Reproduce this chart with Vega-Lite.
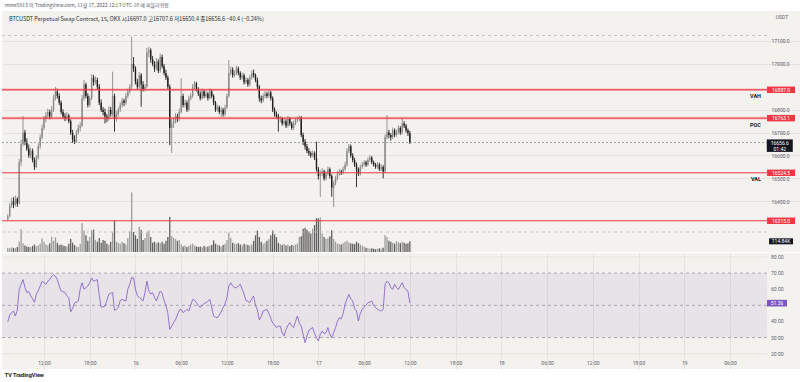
{
"$schema":"https://vega.github.io/schema/vega-lite/v6.json",
"background":"#ffffff",
"padding":{"top":3,"left":0,"right":0,"bottom":0},
"spacing":0,
"title":{"text":"TV TradingView","orient":"bottom","anchor":"start","fontSize":5.5,"fontWeight":"bold","font":"Roboto","color":"#131722","dx":4,"offset":4},
"data":{"format":{"parse":{"t":"utc:'%Y-%m-%d %H:%M'"}},"values":[
{"t":"2022-11-15 07:15","o":16320,"h":16345,"l":16315,"c":16335,"v":45,"r":39.9},
{"t":"2022-11-15 07:30","o":16335,"h":16392,"l":16330,"c":16380,"v":40,"r":44},
{"t":"2022-11-15 07:45","o":16380,"h":16415,"l":16372,"c":16400,"v":50,"r":45.5},
{"t":"2022-11-15 08:00","o":16400,"h":16418,"l":16370,"c":16385,"v":45,"r":46.5},
{"t":"2022-11-15 08:15","o":16385,"h":16425,"l":16378,"c":16410,"v":40,"r":43.4},
{"t":"2022-11-15 08:30","o":16410,"h":16418,"l":16375,"c":16390,"v":55,"r":47},
{"t":"2022-11-15 08:45","o":16390,"h":16585,"l":16385,"c":16570,"v":110,"r":60},
{"t":"2022-11-15 09:00","o":16570,"h":16668,"l":16555,"c":16650,"v":245,"r":63},
{"t":"2022-11-15 09:15","o":16650,"h":16772,"l":16640,"c":16700,"v":95,"r":66},
{"t":"2022-11-15 09:30","o":16700,"h":16712,"l":16645,"c":16660,"v":70,"r":61},
{"t":"2022-11-15 09:45","o":16660,"h":16675,"l":16620,"c":16630,"v":60,"r":58},
{"t":"2022-11-15 10:00","o":16630,"h":16648,"l":16590,"c":16600,"v":55,"r":58.5},
{"t":"2022-11-15 10:15","o":16600,"h":16635,"l":16588,"c":16620,"v":50,"r":56},
{"t":"2022-11-15 10:30","o":16620,"h":16630,"l":16570,"c":16580,"v":65,"r":54},
{"t":"2022-11-15 10:45","o":16580,"h":16592,"l":16537,"c":16550,"v":80,"r":52},
{"t":"2022-11-15 11:00","o":16550,"h":16602,"l":16545,"c":16590,"v":60,"r":57},
{"t":"2022-11-15 11:15","o":16590,"h":16652,"l":16582,"c":16640,"v":70,"r":59},
{"t":"2022-11-15 11:30","o":16640,"h":16692,"l":16630,"c":16680,"v":90,"r":62},
{"t":"2022-11-15 11:45","o":16680,"h":16735,"l":16670,"c":16720,"v":145,"r":65},
{"t":"2022-11-15 12:00","o":16720,"h":16772,"l":16710,"c":16760,"v":110,"r":64},
{"t":"2022-11-15 12:15","o":16760,"h":16790,"l":16745,"c":16775,"v":80,"r":63},
{"t":"2022-11-15 12:30","o":16775,"h":16805,"l":16762,"c":16790,"v":70,"r":65},
{"t":"2022-11-15 12:45","o":16790,"h":16800,"l":16758,"c":16770,"v":95,"r":66},
{"t":"2022-11-15 13:00","o":16770,"h":16815,"l":16762,"c":16800,"v":165,"r":68},
{"t":"2022-11-15 13:15","o":16800,"h":16865,"l":16790,"c":16850,"v":120,"r":69},
{"t":"2022-11-15 13:30","o":16850,"h":16900,"l":16840,"c":16880,"v":157,"r":68},
{"t":"2022-11-15 13:45","o":16880,"h":16892,"l":16848,"c":16860,"v":100,"r":66},
{"t":"2022-11-15 14:00","o":16860,"h":16872,"l":16820,"c":16830,"v":75,"r":62},
{"t":"2022-11-15 14:15","o":16830,"h":16840,"l":16780,"c":16790,"v":80,"r":59},
{"t":"2022-11-15 14:30","o":16790,"h":16802,"l":16760,"c":16770,"v":70,"r":58.5},
{"t":"2022-11-15 14:45","o":16770,"h":16785,"l":16750,"c":16760,"v":65,"r":58},
{"t":"2022-11-15 15:00","o":16760,"h":16790,"l":16752,"c":16775,"v":60,"r":56},
{"t":"2022-11-15 15:15","o":16775,"h":16782,"l":16740,"c":16750,"v":90,"r":54.8},
{"t":"2022-11-15 15:30","o":16750,"h":16758,"l":16690,"c":16700,"v":140,"r":46},
{"t":"2022-11-15 15:45","o":16700,"h":16712,"l":16655,"c":16670,"v":100,"r":48},
{"t":"2022-11-15 16:00","o":16670,"h":16688,"l":16650,"c":16660,"v":75,"r":51.5},
{"t":"2022-11-15 16:15","o":16660,"h":16712,"l":16655,"c":16700,"v":60,"r":52},
{"t":"2022-11-15 16:30","o":16700,"h":16735,"l":16692,"c":16720,"v":55,"r":52.7},
{"t":"2022-11-15 16:45","o":16720,"h":16745,"l":16705,"c":16730,"v":90,"r":60},
{"t":"2022-11-15 17:00","o":16730,"h":16865,"l":16725,"c":16850,"v":310,"r":64},
{"t":"2022-11-15 17:15","o":16850,"h":16930,"l":16840,"c":16910,"v":230,"r":60},
{"t":"2022-11-15 17:30","o":16910,"h":16918,"l":16850,"c":16860,"v":180,"r":61},
{"t":"2022-11-15 17:45","o":16860,"h":16872,"l":16810,"c":16820,"v":120,"r":62},
{"t":"2022-11-15 18:00","o":16820,"h":16862,"l":16812,"c":16850,"v":160,"r":64},
{"t":"2022-11-15 18:15","o":16850,"h":16955,"l":16842,"c":16940,"v":235,"r":67},
{"t":"2022-11-15 18:30","o":16940,"h":16952,"l":16905,"c":16920,"v":240,"r":65},
{"t":"2022-11-15 18:45","o":16920,"h":16945,"l":16910,"c":16930,"v":130,"r":65.5},
{"t":"2022-11-15 19:00","o":16930,"h":16940,"l":16890,"c":16900,"v":110,"r":66},
{"t":"2022-11-15 19:15","o":16900,"h":16912,"l":16820,"c":16830,"v":150,"r":56},
{"t":"2022-11-15 19:30","o":16830,"h":16845,"l":16790,"c":16800,"v":100,"r":49},
{"t":"2022-11-15 19:45","o":16800,"h":16812,"l":16775,"c":16790,"v":130,"r":49},
{"t":"2022-11-15 20:00","o":16790,"h":16805,"l":16740,"c":16770,"v":120,"r":49.6},
{"t":"2022-11-15 20:15","o":16770,"h":16782,"l":16745,"c":16760,"v":90,"r":53},
{"t":"2022-11-15 20:30","o":16760,"h":16815,"l":16752,"c":16800,"v":80,"r":56.8},
{"t":"2022-11-15 20:45","o":16800,"h":16812,"l":16770,"c":16780,"v":110,"r":57.5},
{"t":"2022-11-15 21:00","o":16780,"h":16966,"l":16770,"c":16860,"v":210,"r":58},
{"t":"2022-11-15 21:15","o":16860,"h":16870,"l":16704,"c":16760,"v":340,"r":47},
{"t":"2022-11-15 21:30","o":16760,"h":16795,"l":16748,"c":16780,"v":110,"r":47.5},
{"t":"2022-11-15 21:45","o":16780,"h":16810,"l":16770,"c":16800,"v":100,"r":48.6},
{"t":"2022-11-15 22:00","o":16800,"h":16832,"l":16790,"c":16820,"v":90,"r":53},
{"t":"2022-11-15 22:15","o":16820,"h":16852,"l":16810,"c":16840,"v":110,"r":53.7},
{"t":"2022-11-15 22:30","o":16840,"h":16848,"l":16815,"c":16830,"v":95,"r":53},
{"t":"2022-11-15 22:45","o":16830,"h":16872,"l":16822,"c":16860,"v":80,"r":52.7},
{"t":"2022-11-15 23:00","o":16860,"h":16892,"l":16850,"c":16880,"v":150,"r":60},
{"t":"2022-11-15 23:15","o":16880,"h":16912,"l":16870,"c":16900,"v":220,"r":63},
{"t":"2022-11-15 23:30","o":16900,"h":17119,"l":16890,"c":17000,"v":640,"r":67.2},
{"t":"2022-11-15 23:45","o":17000,"h":17030,"l":16965,"c":16980,"v":215,"r":67},
{"t":"2022-11-16 00:00","o":16980,"h":16990,"l":16910,"c":16920,"v":180,"r":60},
{"t":"2022-11-16 00:15","o":16920,"h":16935,"l":16888,"c":16900,"v":140,"r":56},
{"t":"2022-11-16 00:30","o":16900,"h":16965,"l":16892,"c":16950,"v":270,"r":55},
{"t":"2022-11-16 00:45","o":16950,"h":16960,"l":16813,"c":16910,"v":240,"r":54},
{"t":"2022-11-16 01:00","o":16910,"h":16925,"l":16880,"c":16890,"v":130,"r":52.7},
{"t":"2022-11-16 01:15","o":16890,"h":16912,"l":16880,"c":16900,"v":150,"r":58},
{"t":"2022-11-16 01:30","o":16900,"h":17070,"l":16895,"c":17050,"v":210,"r":65},
{"t":"2022-11-16 01:45","o":17050,"h":17075,"l":17030,"c":17060,"v":230,"r":59},
{"t":"2022-11-16 02:00","o":17060,"h":17068,"l":17005,"c":17020,"v":160,"r":57},
{"t":"2022-11-16 02:15","o":17020,"h":17035,"l":16990,"c":17000,"v":100,"r":57.9},
{"t":"2022-11-16 02:30","o":17000,"h":17012,"l":16965,"c":16980,"v":110,"r":55},
{"t":"2022-11-16 02:45","o":16980,"h":17025,"l":16972,"c":17010,"v":90,"r":52.7},
{"t":"2022-11-16 03:00","o":17010,"h":17020,"l":16960,"c":16970,"v":105,"r":56},
{"t":"2022-11-16 03:15","o":16970,"h":17045,"l":16962,"c":17030,"v":95,"r":58.9},
{"t":"2022-11-16 03:30","o":17030,"h":17040,"l":16980,"c":16990,"v":110,"r":57.5},
{"t":"2022-11-16 03:45","o":16990,"h":17000,"l":16950,"c":16960,"v":90,"r":53},
{"t":"2022-11-16 04:00","o":16960,"h":16975,"l":16930,"c":16940,"v":120,"r":50},
{"t":"2022-11-16 04:15","o":16940,"h":16950,"l":16890,"c":16900,"v":160,"r":45},
{"t":"2022-11-16 04:30","o":16900,"h":16910,"l":16645,"c":16720,"v":375,"r":35.1},
{"t":"2022-11-16 04:45","o":16720,"h":16760,"l":16611,"c":16740,"v":170,"r":37},
{"t":"2022-11-16 05:00","o":16740,"h":16765,"l":16720,"c":16750,"v":150,"r":39.3},
{"t":"2022-11-16 05:15","o":16750,"h":16785,"l":16740,"c":16770,"v":140,"r":41},
{"t":"2022-11-16 05:30","o":16770,"h":16782,"l":16745,"c":16760,"v":120,"r":44},
{"t":"2022-11-16 05:45","o":16760,"h":16805,"l":16750,"c":16790,"v":130,"r":47},
{"t":"2022-11-16 06:00","o":16790,"h":16938,"l":16782,"c":16860,"v":80,"r":47.5},
{"t":"2022-11-16 06:15","o":16860,"h":16870,"l":16810,"c":16820,"v":60,"r":45.5},
{"t":"2022-11-16 06:30","o":16820,"h":16845,"l":16810,"c":16830,"v":70,"r":46.5},
{"t":"2022-11-16 06:45","o":16830,"h":16840,"l":16790,"c":16800,"v":55,"r":47.5},
{"t":"2022-11-16 07:00","o":16800,"h":16862,"l":16792,"c":16850,"v":65,"r":46.5},
{"t":"2022-11-16 07:15","o":16850,"h":16872,"l":16840,"c":16860,"v":80,"r":50},
{"t":"2022-11-16 07:30","o":16860,"h":16912,"l":16852,"c":16900,"v":90,"r":53.7},
{"t":"2022-11-16 07:45","o":16900,"h":16925,"l":16890,"c":16915,"v":70,"r":53},
{"t":"2022-11-16 08:00","o":16915,"h":16922,"l":16880,"c":16890,"v":60,"r":51.7},
{"t":"2022-11-16 08:15","o":16890,"h":16898,"l":16860,"c":16870,"v":55,"r":50},
{"t":"2022-11-16 08:30","o":16870,"h":16880,"l":16840,"c":16850,"v":60,"r":48.6},
{"t":"2022-11-16 08:45","o":16850,"h":16892,"l":16845,"c":16880,"v":50,"r":50},
{"t":"2022-11-16 09:00","o":16880,"h":16888,"l":16850,"c":16860,"v":65,"r":51},
{"t":"2022-11-16 09:15","o":16860,"h":16882,"l":16852,"c":16870,"v":55,"r":51.7},
{"t":"2022-11-16 09:30","o":16870,"h":16878,"l":16840,"c":16850,"v":60,"r":52.5},
{"t":"2022-11-16 09:45","o":16850,"h":16892,"l":16845,"c":16880,"v":70,"r":53.7},
{"t":"2022-11-16 10:00","o":16880,"h":16888,"l":16850,"c":16860,"v":75,"r":49},
{"t":"2022-11-16 10:15","o":16860,"h":16868,"l":16820,"c":16830,"v":125,"r":43.4},
{"t":"2022-11-16 10:30","o":16830,"h":16838,"l":16790,"c":16800,"v":90,"r":42.6},
{"t":"2022-11-16 10:45","o":16800,"h":16822,"l":16792,"c":16810,"v":80,"r":42.4},
{"t":"2022-11-16 11:00","o":16810,"h":16818,"l":16780,"c":16790,"v":70,"r":44},
{"t":"2022-11-16 11:15","o":16790,"h":16812,"l":16768,"c":16800,"v":60,"r":46},
{"t":"2022-11-16 11:30","o":16800,"h":16808,"l":16770,"c":16780,"v":75,"r":48.6},
{"t":"2022-11-16 11:45","o":16780,"h":16822,"l":16772,"c":16810,"v":90,"r":51},
{"t":"2022-11-16 12:00","o":16810,"h":16872,"l":16802,"c":16860,"v":130,"r":54.8},
{"t":"2022-11-16 12:15","o":16860,"h":17017,"l":16852,"c":16960,"v":210,"r":62},
{"t":"2022-11-16 12:30","o":16960,"h":16990,"l":16950,"c":16975,"v":150,"r":64},
{"t":"2022-11-16 12:45","o":16975,"h":16985,"l":16940,"c":16950,"v":100,"r":62},
{"t":"2022-11-16 13:00","o":16950,"h":16972,"l":16942,"c":16960,"v":90,"r":61},
{"t":"2022-11-16 13:15","o":16960,"h":16992,"l":16952,"c":16980,"v":85,"r":61},
{"t":"2022-11-16 13:30","o":16980,"h":16988,"l":16950,"c":16960,"v":95,"r":62},
{"t":"2022-11-16 13:45","o":16960,"h":16968,"l":16930,"c":16940,"v":80,"r":63},
{"t":"2022-11-16 14:00","o":16940,"h":16962,"l":16932,"c":16950,"v":70,"r":60},
{"t":"2022-11-16 14:15","o":16950,"h":16958,"l":16910,"c":16920,"v":90,"r":57},
{"t":"2022-11-16 14:30","o":16920,"h":16942,"l":16912,"c":16930,"v":80,"r":53},
{"t":"2022-11-16 14:45","o":16930,"h":16938,"l":16900,"c":16910,"v":75,"r":52.5},
{"t":"2022-11-16 15:00","o":16910,"h":16952,"l":16902,"c":16940,"v":70,"r":51.7},
{"t":"2022-11-16 15:15","o":16940,"h":16972,"l":16932,"c":16960,"v":80,"r":54},
{"t":"2022-11-16 15:30","o":16960,"h":16975,"l":16940,"c":16950,"v":120,"r":55.8},
{"t":"2022-11-16 15:45","o":16950,"h":16958,"l":16920,"c":16930,"v":180,"r":50},
{"t":"2022-11-16 16:00","o":16930,"h":16940,"l":16890,"c":16900,"v":230,"r":47},
{"t":"2022-11-16 16:15","o":16900,"h":16908,"l":16835,"c":16850,"v":160,"r":41},
{"t":"2022-11-16 16:30","o":16850,"h":16862,"l":16828,"c":16840,"v":110,"r":43},
{"t":"2022-11-16 16:45","o":16840,"h":16872,"l":16832,"c":16860,"v":90,"r":46.5},
{"t":"2022-11-16 17:00","o":16860,"h":16882,"l":16850,"c":16870,"v":100,"r":47},
{"t":"2022-11-16 17:15","o":16870,"h":16878,"l":16850,"c":16860,"v":120,"r":47.5},
{"t":"2022-11-16 17:30","o":16860,"h":16888,"l":16852,"c":16875,"v":140,"r":45},
{"t":"2022-11-16 17:45","o":16875,"h":16882,"l":16840,"c":16850,"v":180,"r":42},
{"t":"2022-11-16 18:00","o":16850,"h":16858,"l":16790,"c":16800,"v":230,"r":39},
{"t":"2022-11-16 18:15","o":16800,"h":16810,"l":16770,"c":16780,"v":190,"r":38},
{"t":"2022-11-16 18:30","o":16780,"h":16792,"l":16760,"c":16770,"v":160,"r":36.2},
{"t":"2022-11-16 18:45","o":16770,"h":16782,"l":16704,"c":16760,"v":100,"r":37},
{"t":"2022-11-16 19:00","o":16760,"h":16772,"l":16745,"c":16760,"v":85,"r":37.2},
{"t":"2022-11-16 19:15","o":16760,"h":16768,"l":16730,"c":16740,"v":75,"r":33},
{"t":"2022-11-16 19:30","o":16740,"h":16762,"l":16732,"c":16750,"v":90,"r":31},
{"t":"2022-11-16 19:45","o":16750,"h":16758,"l":16720,"c":16730,"v":70,"r":35},
{"t":"2022-11-16 20:00","o":16730,"h":16772,"l":16722,"c":16760,"v":80,"r":37.5},
{"t":"2022-11-16 20:15","o":16760,"h":16768,"l":16730,"c":16740,"v":65,"r":39.3},
{"t":"2022-11-16 20:30","o":16740,"h":16748,"l":16712,"c":16720,"v":75,"r":37.5},
{"t":"2022-11-16 20:45","o":16720,"h":16752,"l":16712,"c":16740,"v":70,"r":36.2},
{"t":"2022-11-16 21:00","o":16740,"h":16765,"l":16732,"c":16755,"v":80,"r":40},
{"t":"2022-11-16 21:15","o":16755,"h":16770,"l":16745,"c":16760,"v":90,"r":43.4},
{"t":"2022-11-16 21:30","o":16760,"h":16775,"l":16750,"c":16765,"v":160,"r":39},
{"t":"2022-11-16 21:45","o":16765,"h":16772,"l":16680,"c":16690,"v":170,"r":37},
{"t":"2022-11-16 22:00","o":16690,"h":16700,"l":16645,"c":16660,"v":250,"r":32},
{"t":"2022-11-16 22:15","o":16660,"h":16672,"l":16625,"c":16640,"v":260,"r":26.8},
{"t":"2022-11-16 22:30","o":16640,"h":16650,"l":16610,"c":16620,"v":240,"r":31},
{"t":"2022-11-16 22:45","o":16620,"h":16632,"l":16598,"c":16610,"v":220,"r":34.5},
{"t":"2022-11-16 23:00","o":16610,"h":16618,"l":16590,"c":16600,"v":200,"r":35.5},
{"t":"2022-11-16 23:15","o":16600,"h":16622,"l":16592,"c":16610,"v":250,"r":36.2},
{"t":"2022-11-16 23:30","o":16610,"h":16618,"l":16580,"c":16590,"v":290,"r":32.5},
{"t":"2022-11-16 23:45","o":16590,"h":16660,"l":16530,"c":16540,"v":365,"r":30},
{"t":"2022-11-17 00:00","o":16540,"h":16550,"l":16495,"c":16510,"v":360,"r":27.9},
{"t":"2022-11-17 00:15","o":16510,"h":16535,"l":16419,"c":16520,"v":370,"r":32},
{"t":"2022-11-17 00:30","o":16520,"h":16545,"l":16510,"c":16530,"v":200,"r":34.1},
{"t":"2022-11-17 00:45","o":16530,"h":16538,"l":16490,"c":16500,"v":160,"r":32.5},
{"t":"2022-11-17 01:00","o":16500,"h":16532,"l":16492,"c":16520,"v":140,"r":33},
{"t":"2022-11-17 01:15","o":16520,"h":16552,"l":16512,"c":16540,"v":150,"r":36.2},
{"t":"2022-11-17 01:30","o":16540,"h":16548,"l":16500,"c":16510,"v":170,"r":32},
{"t":"2022-11-17 01:45","o":16510,"h":16518,"l":16420,"c":16460,"v":235,"r":29.9},
{"t":"2022-11-17 02:00","o":16460,"h":16490,"l":16375,"c":16480,"v":140,"r":33},
{"t":"2022-11-17 02:15","o":16480,"h":16512,"l":16470,"c":16500,"v":110,"r":36.2},
{"t":"2022-11-17 02:30","o":16500,"h":16532,"l":16492,"c":16520,"v":90,"r":40},
{"t":"2022-11-17 02:45","o":16520,"h":16542,"l":16512,"c":16530,"v":85,"r":42.4},
{"t":"2022-11-17 03:00","o":16530,"h":16538,"l":16515,"c":16525,"v":80,"r":41.5},
{"t":"2022-11-17 03:15","o":16525,"h":16552,"l":16518,"c":16540,"v":95,"r":45},
{"t":"2022-11-17 03:30","o":16540,"h":16572,"l":16532,"c":16560,"v":110,"r":50.6},
{"t":"2022-11-17 03:45","o":16560,"h":16632,"l":16552,"c":16620,"v":120,"r":54},
{"t":"2022-11-17 04:00","o":16620,"h":16650,"l":16610,"c":16640,"v":100,"r":56.8},
{"t":"2022-11-17 04:15","o":16640,"h":16648,"l":16590,"c":16600,"v":95,"r":54},
{"t":"2022-11-17 04:30","o":16600,"h":16610,"l":16570,"c":16580,"v":90,"r":52.7},
{"t":"2022-11-17 04:45","o":16580,"h":16590,"l":16550,"c":16560,"v":85,"r":48},
{"t":"2022-11-17 05:00","o":16560,"h":16570,"l":16462,"c":16540,"v":110,"r":46.5},
{"t":"2022-11-17 05:15","o":16540,"h":16548,"l":16510,"c":16520,"v":95,"r":40.3},
{"t":"2022-11-17 05:30","o":16520,"h":16560,"l":16512,"c":16550,"v":80,"r":45},
{"t":"2022-11-17 05:45","o":16550,"h":16572,"l":16542,"c":16560,"v":70,"r":47.5},
{"t":"2022-11-17 06:00","o":16560,"h":16580,"l":16552,"c":16570,"v":60,"r":49},
{"t":"2022-11-17 06:15","o":16570,"h":16578,"l":16550,"c":16560,"v":45,"r":50},
{"t":"2022-11-17 06:30","o":16560,"h":16592,"l":16552,"c":16580,"v":40,"r":51.7},
{"t":"2022-11-17 06:45","o":16580,"h":16602,"l":16572,"c":16590,"v":35,"r":52},
{"t":"2022-11-17 07:00","o":16590,"h":16598,"l":16562,"c":16570,"v":40,"r":52.7},
{"t":"2022-11-17 07:15","o":16570,"h":16578,"l":16552,"c":16560,"v":35,"r":50},
{"t":"2022-11-17 07:30","o":16560,"h":16568,"l":16542,"c":16550,"v":30,"r":48.6},
{"t":"2022-11-17 07:45","o":16550,"h":16572,"l":16542,"c":16560,"v":35,"r":47.5},
{"t":"2022-11-17 08:00","o":16560,"h":16568,"l":16532,"c":16540,"v":40,"r":47},
{"t":"2022-11-17 08:15","o":16540,"h":16562,"l":16532,"c":16550,"v":35,"r":46.5},
{"t":"2022-11-17 08:30","o":16550,"h":16558,"l":16500,"c":16530,"v":45,"r":47.5},
{"t":"2022-11-17 08:45","o":16530,"h":16692,"l":16522,"c":16680,"v":180,"r":63},
{"t":"2022-11-17 09:00","o":16680,"h":16777,"l":16670,"c":16700,"v":160,"r":65},
{"t":"2022-11-17 09:15","o":16700,"h":16712,"l":16675,"c":16690,"v":120,"r":64},
{"t":"2022-11-17 09:30","o":16690,"h":16698,"l":16665,"c":16680,"v":110,"r":61},
{"t":"2022-11-17 09:45","o":16680,"h":16722,"l":16672,"c":16710,"v":100,"r":60},
{"t":"2022-11-17 10:00","o":16710,"h":16718,"l":16680,"c":16690,"v":90,"r":63},
{"t":"2022-11-17 10:15","o":16690,"h":16712,"l":16682,"c":16700,"v":115,"r":61},
{"t":"2022-11-17 10:30","o":16700,"h":16732,"l":16692,"c":16720,"v":105,"r":59.9},
{"t":"2022-11-17 10:45","o":16720,"h":16728,"l":16690,"c":16700,"v":95,"r":62},
{"t":"2022-11-17 11:00","o":16700,"h":16764,"l":16692,"c":16740,"v":110,"r":64.1},
{"t":"2022-11-17 11:15","o":16740,"h":16750,"l":16720,"c":16730,"v":100,"r":61},
{"t":"2022-11-17 11:30","o":16730,"h":16738,"l":16700,"c":16710,"v":90,"r":59.9},
{"t":"2022-11-17 11:45","o":16710,"h":16718,"l":16685,"c":16697,"v":95,"r":58.9},
{"t":"2022-11-17 12:00","o":16697,"h":16707.6,"l":16650.4,"c":16656.6,"v":114.84,"r":51.36}
]},
"vconcat":[
{
"width":800,"height":241,
"title":{"text":"mme5913 이 TradingView.com, 11월 17, 2022 12:13 UTC-10 에 퍼블리쉬함","anchor":"start","fontSize":5,"font":"Noto Sans CJK KR","fontWeight":"normal","color":"#50535e","dx":4,"offset":3},
"layer":[
{"layer":[
 {"mark":{"type":"rule","strokeWidth":1.3},
  "encoding":{
   "x":{"field":"t","type":"temporal","scale":{"type":"utc","domain":[{"year":2022,"month":11,"date":15,"hours":6,"minutes":29,"seconds":24,"utc":true},{"year":2022,"month":11,"date":19,"hours":15,"minutes":27,"utc":true}]},"axis":null},
   "y":{"field":"v","type":"quantitative","scale":{"domain":[0,2590]},"axis":null},
   "y2":{"datum":0},
   "color":{"condition":{"test":"datum.c >= datum.o","value":"#9c9c9c"},"value":"#606060"}}},
 {"data":{"values":[{"v":114.84,"s":"114.84K"}]},
  "mark":{"type":"point","shape":"M-1,-0.25H1V0.25H-1Z","filled":true,"size":576,"opacity":1,"color":"#131722"},
  "encoding":{
   "x":{"datum":{"year":2022,"month":11,"date":19,"hours":12,"minutes":42,"utc":true},"type":"temporal","scale":{"type":"utc","domain":[{"year":2022,"month":11,"date":15,"hours":6,"minutes":29,"seconds":24,"utc":true},{"year":2022,"month":11,"date":19,"hours":15,"minutes":27,"utc":true}]}},
   "y":{"field":"v","type":"quantitative","scale":{"domain":[0,2590]},"axis":null}}},
 {"data":{"values":[{"v":114.84,"s":"114.84K"}]},
  "mark":{"type":"text","color":"#ffffff","fontSize":5,"font":"Roboto","align":"center","baseline":"middle"},
  "encoding":{
   "x":{"datum":{"year":2022,"month":11,"date":19,"hours":12,"minutes":42,"utc":true},"type":"temporal","scale":{"type":"utc","domain":[{"year":2022,"month":11,"date":15,"hours":6,"minutes":29,"seconds":24,"utc":true},{"year":2022,"month":11,"date":19,"hours":15,"minutes":27,"utc":true}]}},
   "y":{"field":"v","type":"quantitative","scale":{"domain":[0,2590]},"axis":null},
   "text":{"field":"s"}}}
]},
{"layer":[
 {"mark":{"type":"rule","strokeWidth":0.9},
  "encoding":{
   "x":{"field":"t","type":"temporal","scale":{"type":"utc","domain":[{"year":2022,"month":11,"date":15,"hours":6,"minutes":29,"seconds":24,"utc":true},{"year":2022,"month":11,"date":19,"hours":15,"minutes":27,"utc":true}]},
    "axis":{"grid":true,"gridColor":"#e6e3de","gridWidth":1,"labels":false,"ticks":false,"domain":false,"title":null,
     "values":[{"year":2022,"month":11,"date":15,"hours":12,"utc":true},{"year":2022,"month":11,"date":15,"hours":18,"utc":true},{"year":2022,"month":11,"date":16,"hours":0,"utc":true},{"year":2022,"month":11,"date":16,"hours":6,"utc":true},{"year":2022,"month":11,"date":16,"hours":12,"utc":true},{"year":2022,"month":11,"date":16,"hours":18,"utc":true},{"year":2022,"month":11,"date":17,"hours":0,"utc":true},{"year":2022,"month":11,"date":17,"hours":6,"utc":true},{"year":2022,"month":11,"date":17,"hours":12,"utc":true},{"year":2022,"month":11,"date":17,"hours":18,"utc":true},{"year":2022,"month":11,"date":18,"hours":0,"utc":true},{"year":2022,"month":11,"date":18,"hours":6,"utc":true},{"year":2022,"month":11,"date":18,"hours":12,"utc":true},{"year":2022,"month":11,"date":18,"hours":18,"utc":true},{"year":2022,"month":11,"date":19,"hours":0,"utc":true},{"year":2022,"month":11,"date":19,"hours":6,"utc":true}]}},
   "y":{"field":"l","type":"quantitative","scale":{"domain":[16178.6,17231]},
    "axis":{"orient":"right","offset":-36,"values":[16400,16500,16600,16700,16800,17000,17100],"format":".1f","grid":true,"gridColor":"#e6e3de","domain":false,"ticks":false,"labelOverlap":false,"labelFontSize":5,"labelFont":"Roboto","labelColor":"#5d606b","labelPadding":5,"title":null}},
   "y2":{"field":"h"},
   "color":{"condition":{"test":"datum.c >= datum.o","value":"#8a8a8a"},"value":"#1e1e1e"}}},
 {"mark":{"type":"rule","strokeWidth":1.4},
  "encoding":{
   "x":{"field":"t","type":"temporal","scale":{"type":"utc","domain":[{"year":2022,"month":11,"date":15,"hours":6,"minutes":29,"seconds":24,"utc":true},{"year":2022,"month":11,"date":19,"hours":15,"minutes":27,"utc":true}]}},
   "y":{"field":"o","type":"quantitative","scale":{"domain":[16178.6,17231]}},
   "y2":{"field":"c"},
   "color":{"condition":{"test":"datum.c >= datum.o","value":"#8a8a8a"},"value":"#1e1e1e"}}},
 {"data":{"values":[{"p":17124},{"p":16266}]},
  "mark":{"type":"rule","color":"#bdbab4","strokeWidth":0.8,"strokeDash":[3,3]},
  "encoding":{
   "x":{"datum":{"year":2022,"month":11,"date":15,"hours":6,"minutes":29,"seconds":24,"utc":true},"type":"temporal","scale":{"type":"utc","domain":[{"year":2022,"month":11,"date":15,"hours":6,"minutes":29,"seconds":24,"utc":true},{"year":2022,"month":11,"date":19,"hours":15,"minutes":27,"utc":true}]}},
   "x2":{"datum":{"year":2022,"month":11,"date":19,"hours":10,"minutes":51,"utc":true}},
   "y":{"field":"p","type":"quantitative","scale":{"domain":[16178.6,17231]}}}},
 {"data":{"values":[{"p":16656.6}]},
  "mark":{"type":"rule","color":"#8d8f96","strokeWidth":0.8,"strokeDash":[2,2]},
  "encoding":{
   "x":{"datum":{"year":2022,"month":11,"date":15,"hours":6,"minutes":29,"seconds":24,"utc":true},"type":"temporal","scale":{"type":"utc","domain":[{"year":2022,"month":11,"date":15,"hours":6,"minutes":29,"seconds":24,"utc":true},{"year":2022,"month":11,"date":19,"hours":15,"minutes":27,"utc":true}]}},
   "x2":{"datum":{"year":2022,"month":11,"date":19,"hours":10,"minutes":51,"utc":true}},
   "y":{"field":"p","type":"quantitative","scale":{"domain":[16178.6,17231]}}}},
 {"data":{"values":[{"p":16887},{"p":16763.1}]},
  "mark":{"type":"rule","color":"#f23645","strokeWidth":2.6,"opacity":0.3},
  "encoding":{
   "x":{"datum":{"year":2022,"month":11,"date":15,"hours":6,"minutes":29,"seconds":24,"utc":true},"type":"temporal","scale":{"type":"utc","domain":[{"year":2022,"month":11,"date":15,"hours":6,"minutes":29,"seconds":24,"utc":true},{"year":2022,"month":11,"date":19,"hours":15,"minutes":27,"utc":true}]}},
   "x2":{"datum":{"year":2022,"month":11,"date":19,"hours":10,"minutes":51,"utc":true}},
   "y":{"field":"p","type":"quantitative","scale":{"domain":[16178.6,17231]}}}},
 {"data":{"values":[{"p":16887},{"p":16763.1},{"p":16524.5},{"p":16315}]},
  "mark":{"type":"rule","color":"#f23645","strokeWidth":1},
  "encoding":{
   "x":{"datum":{"year":2022,"month":11,"date":15,"hours":6,"minutes":29,"seconds":24,"utc":true},"type":"temporal","scale":{"type":"utc","domain":[{"year":2022,"month":11,"date":15,"hours":6,"minutes":29,"seconds":24,"utc":true},{"year":2022,"month":11,"date":19,"hours":15,"minutes":27,"utc":true}]}},
   "x2":{"datum":{"year":2022,"month":11,"date":19,"hours":10,"minutes":51,"utc":true}},
   "y":{"field":"p","type":"quantitative","scale":{"domain":[16178.6,17231]}}}},
 {"data":{"values":[{"p":16887,"n":"VAH"},{"p":16763.1,"n":"POC"},{"p":16524.5,"n":"VAL"}]},
  "mark":{"type":"text","align":"right","baseline":"middle","dy":6.5,"fontSize":5.5,"fontWeight":"bold","font":"Roboto","color":"#131722"},
  "encoding":{
   "x":{"datum":{"year":2022,"month":11,"date":19,"hours":10,"minutes":4,"utc":true},"type":"temporal","scale":{"type":"utc","domain":[{"year":2022,"month":11,"date":15,"hours":6,"minutes":29,"seconds":24,"utc":true},{"year":2022,"month":11,"date":19,"hours":15,"minutes":27,"utc":true}]}},
   "y":{"field":"p","type":"quantitative","scale":{"domain":[16178.6,17231]}},
   "text":{"field":"n"}}},
 {"data":{"values":[{"p":16887,"s":"16887.0"},{"p":16763.1,"s":"16763.1"},{"p":16524.5,"s":"16524.5"},{"p":16315,"s":"16315.0"}]},
  "layer":[
   {"mark":{"type":"point","shape":"M-1,-0.23H1V0.23H-1Z","filled":true,"size":784,"opacity":1,"color":"#f23645"}},
   {"mark":{"type":"text","color":"#ffffff","fontSize":5,"font":"Roboto","align":"center","baseline":"middle"},"encoding":{"text":{"field":"s"}}}
  ],
  "encoding":{
   "x":{"datum":{"year":2022,"month":11,"date":19,"hours":12,"minutes":42,"utc":true},"type":"temporal","scale":{"type":"utc","domain":[{"year":2022,"month":11,"date":15,"hours":6,"minutes":29,"seconds":24,"utc":true},{"year":2022,"month":11,"date":19,"hours":15,"minutes":27,"utc":true}]}},
   "y":{"field":"p","type":"quantitative","scale":{"domain":[16178.6,17231]}}}},
 {"data":{"values":[{"p":16656.6,"s":"16656.6","u":"01:42"}]},
  "layer":[
   {"mark":{"type":"point","shape":"M-1,-0.24H1V0.72H-1Z","filled":true,"size":676,"opacity":1,"color":"#131722"}},
   {"mark":{"type":"text","color":"#ffffff","fontSize":5,"font":"Roboto","align":"center","baseline":"middle","dy":0.3},"encoding":{"text":{"field":"s"}}},
   {"mark":{"type":"text","color":"#ffffff","fontSize":5,"font":"Roboto","align":"center","baseline":"middle","dy":6},"encoding":{"text":{"field":"u"}}}
  ],
  "encoding":{
   "x":{"datum":{"year":2022,"month":11,"date":19,"hours":12,"minutes":32,"utc":true},"type":"temporal","scale":{"type":"utc","domain":[{"year":2022,"month":11,"date":15,"hours":6,"minutes":29,"seconds":24,"utc":true},{"year":2022,"month":11,"date":19,"hours":15,"minutes":27,"utc":true}]}},
   "y":{"field":"p","type":"quantitative","scale":{"domain":[16178.6,17231]}}}},
 {"data":{"values":[{"p":17196,"s":"BTCUSDT Perpetual Swap Contract, 15, OKX  시16697.0  고16707.6  저16650.4  종16656.6  −40.4 (−0.24%)"}]},
  "mark":{"type":"text","align":"left","baseline":"middle","fontSize":5.5,"font":"Noto Sans CJK KR","color":"#2a2e39"},
  "encoding":{
   "x":{"datum":{"year":2022,"month":11,"date":15,"hours":7,"minutes":24,"utc":true},"type":"temporal","scale":{"type":"utc","domain":[{"year":2022,"month":11,"date":15,"hours":6,"minutes":29,"seconds":24,"utc":true},{"year":2022,"month":11,"date":19,"hours":15,"minutes":27,"utc":true}]}},
   "y":{"field":"p","type":"quantitative","scale":{"domain":[16178.6,17231]}},
   "text":{"field":"s"}}},
 {"data":{"values":[{"p":17205,"s":"USDT"}]},
  "mark":{"type":"text","align":"left","baseline":"middle","fontSize":5,"font":"Roboto","color":"#5d606b"},
  "encoding":{
   "x":{"datum":{"year":2022,"month":11,"date":19,"hours":12,"minutes":0,"utc":true},"type":"temporal","scale":{"type":"utc","domain":[{"year":2022,"month":11,"date":15,"hours":6,"minutes":29,"seconds":24,"utc":true},{"year":2022,"month":11,"date":19,"hours":15,"minutes":27,"utc":true}]}},
   "y":{"field":"p","type":"quantitative","scale":{"domain":[16178.6,17231]}},
   "text":{"field":"s"}}}
]}
],
"resolve":{"scale":{"y":"independent"}}
},
{
"width":800,"height":116,
"layer":[
 {"data":{"values":[{"a":70,"b":30}]},
  "mark":{"type":"rect","color":"#7e57c2","opacity":0.1},
  "encoding":{
   "x":{"datum":{"year":2022,"month":11,"date":15,"hours":6,"minutes":29,"seconds":24,"utc":true},"type":"temporal","scale":{"type":"utc","domain":[{"year":2022,"month":11,"date":15,"hours":6,"minutes":29,"seconds":24,"utc":true},{"year":2022,"month":11,"date":19,"hours":15,"minutes":27,"utc":true}]},
    "axis":{"grid":true,"gridColor":"#e6e3de","ticks":false,"domain":false,"title":null,"offset":-10,"labelPadding":1,"labelFontSize":5,"labelFont":"Roboto","labelColor":"#5d606b","labelBaseline":"top",
     "labelExpr":"utchours(datum.value) == 0 ? utcFormat(datum.value, '%-d') : utcFormat(datum.value, '%H:%M')",
     "values":[{"year":2022,"month":11,"date":15,"hours":12,"utc":true},{"year":2022,"month":11,"date":15,"hours":18,"utc":true},{"year":2022,"month":11,"date":16,"hours":0,"utc":true},{"year":2022,"month":11,"date":16,"hours":6,"utc":true},{"year":2022,"month":11,"date":16,"hours":12,"utc":true},{"year":2022,"month":11,"date":16,"hours":18,"utc":true},{"year":2022,"month":11,"date":17,"hours":0,"utc":true},{"year":2022,"month":11,"date":17,"hours":6,"utc":true},{"year":2022,"month":11,"date":17,"hours":12,"utc":true},{"year":2022,"month":11,"date":17,"hours":18,"utc":true},{"year":2022,"month":11,"date":18,"hours":0,"utc":true},{"year":2022,"month":11,"date":18,"hours":6,"utc":true},{"year":2022,"month":11,"date":18,"hours":12,"utc":true},{"year":2022,"month":11,"date":18,"hours":18,"utc":true},{"year":2022,"month":11,"date":19,"hours":0,"utc":true},{"year":2022,"month":11,"date":19,"hours":6,"utc":true}]}},
   "x2":{"datum":{"year":2022,"month":11,"date":19,"hours":10,"minutes":51,"utc":true}},
   "y":{"field":"a","type":"quantitative","scale":{"domain":[10.51,82.48]},"axis":null},
   "y2":{"field":"b"}}},
 {"data":{"values":[{"k":80},{"k":60},{"k":40},{"k":20}]},
  "mark":{"type":"rule","color":"#e6e3de","strokeWidth":1},
  "encoding":{
   "x":{"datum":{"year":2022,"month":11,"date":15,"hours":6,"minutes":29,"seconds":24,"utc":true},"type":"temporal","scale":{"type":"utc","domain":[{"year":2022,"month":11,"date":15,"hours":6,"minutes":29,"seconds":24,"utc":true},{"year":2022,"month":11,"date":19,"hours":15,"minutes":27,"utc":true}]}},
   "x2":{"datum":{"year":2022,"month":11,"date":19,"hours":10,"minutes":51,"utc":true}},
   "y":{"field":"k","type":"quantitative","scale":{"domain":[10.51,82.48]}}}},
 {"data":{"values":[{"q":70},{"q":50},{"q":30}]},
  "mark":{"type":"rule","color":"#9b97a3","strokeWidth":0.8,"strokeDash":[3,3]},
  "encoding":{
   "x":{"datum":{"year":2022,"month":11,"date":15,"hours":6,"minutes":29,"seconds":24,"utc":true},"type":"temporal","scale":{"type":"utc","domain":[{"year":2022,"month":11,"date":15,"hours":6,"minutes":29,"seconds":24,"utc":true},{"year":2022,"month":11,"date":19,"hours":15,"minutes":27,"utc":true}]}},
   "x2":{"datum":{"year":2022,"month":11,"date":19,"hours":10,"minutes":51,"utc":true}},
   "y":{"field":"q","type":"quantitative","scale":{"domain":[10.51,82.48]}}}},
 {"mark":{"type":"line","color":"#7e57c2","strokeWidth":0.8},
  "encoding":{
   "x":{"field":"t","type":"temporal","scale":{"type":"utc","domain":[{"year":2022,"month":11,"date":15,"hours":6,"minutes":29,"seconds":24,"utc":true},{"year":2022,"month":11,"date":19,"hours":15,"minutes":27,"utc":true}]}},
   "y":{"field":"r","type":"quantitative","scale":{"domain":[10.51,82.48]}}}},
 {"data":{"values":[{"m":80,"s":"80.00"},{"m":70,"s":"70.00"},{"m":60,"s":"60.00"},{"m":40,"s":"40.00"},{"m":30,"s":"30.00"},{"m":20,"s":"20.00"}]},
  "mark":{"type":"text","align":"left","baseline":"middle","fontSize":5,"font":"Roboto","color":"#5d606b"},
  "encoding":{
   "x":{"datum":{"year":2022,"month":11,"date":19,"hours":11,"minutes":23,"utc":true},"type":"temporal","scale":{"type":"utc","domain":[{"year":2022,"month":11,"date":15,"hours":6,"minutes":29,"seconds":24,"utc":true},{"year":2022,"month":11,"date":19,"hours":15,"minutes":27,"utc":true}]}},
   "y":{"field":"m","type":"quantitative","scale":{"domain":[10.51,82.48]}},
   "text":{"field":"s"}}},
 {"data":{"values":[{"q":51.36,"s":"51.36"}]},
  "layer":[
   {"mark":{"type":"point","shape":"M-1,-0.33H1V0.33H-1Z","filled":true,"size":400,"opacity":1,"color":"#7e57c2"}},
   {"mark":{"type":"text","color":"#ffffff","fontSize":5,"font":"Roboto","align":"center","baseline":"middle"},"encoding":{"text":{"field":"s"}}}
  ],
  "encoding":{
   "x":{"datum":{"year":2022,"month":11,"date":19,"hours":12,"minutes":10,"utc":true},"type":"temporal","scale":{"type":"utc","domain":[{"year":2022,"month":11,"date":15,"hours":6,"minutes":29,"seconds":24,"utc":true},{"year":2022,"month":11,"date":19,"hours":15,"minutes":27,"utc":true}]}},
   "y":{"field":"q","type":"quantitative","scale":{"domain":[10.51,82.48]}}}}
]
}
],
"config":{"view":{"fill":"#f4f2ee","stroke":null},"font":"Roboto"}
}
